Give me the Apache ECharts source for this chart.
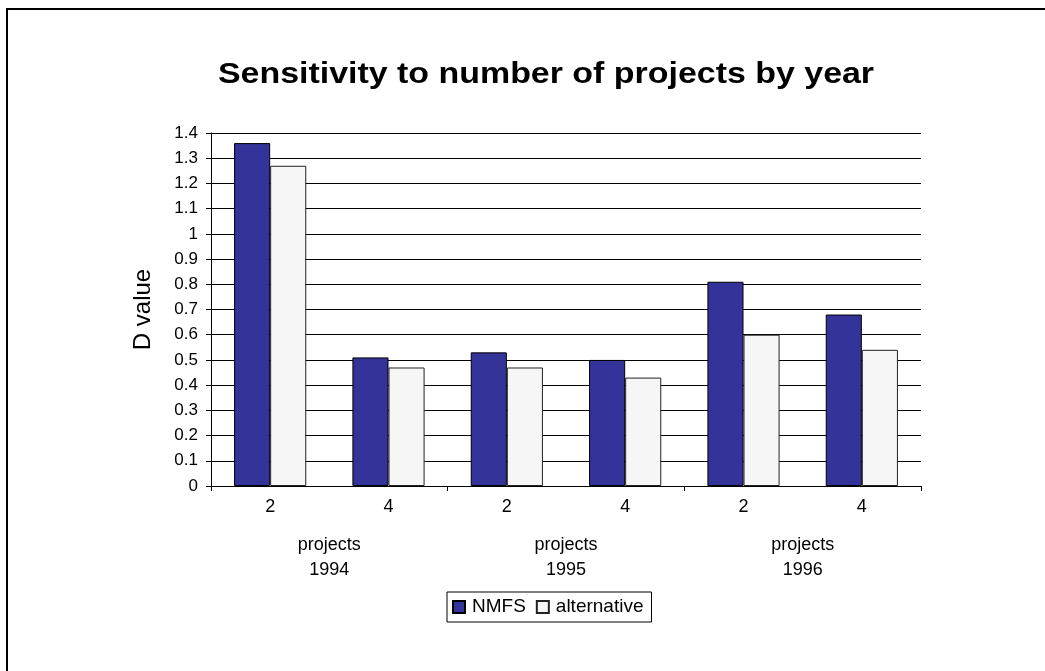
<!DOCTYPE html>
<html>
<head>
<meta charset="utf-8">
<script src="https://cdn.jsdelivr.net/npm/echarts@6/dist/echarts.min.js"></script>
<style>
  html, body { margin: 0; padding: 0; background: #ffffff; }
  #chart { width: 1045px; height: 671px; }
</style>
</head>
<body>
<div id="chart"></div>
<script>
// Number of projects within each year, and the years they are grouped under
const projectCounts = ['2', '4', '2', '4', '2', '4'];
const yearGroups = ['projects\n1994', 'projects\n1995', 'projects\n1996'];

// D values for each estimator
const nmfsValues = [1.36, 0.51, 0.53, 0.50, 0.81, 0.68];
const alternativeValues = [1.27, 0.47, 0.47, 0.43, 0.60, 0.54];

const FONT = '"Liberation Sans", Arial, sans-serif';

const chart = echarts.init(document.getElementById('chart'), null, { renderer: 'canvas' });

chart.setOption({
  backgroundColor: '#ffffff',
  animation: false,
  graphic: [{
    // outer frame of the chart area
    type: 'rect',
    shape: { x: 7, y: 9, width: 1200, height: 1000 },
    style: { fill: 'none', stroke: '#000', lineWidth: 2 },
    silent: true
  }, {
    // chart title, set a little wide
    type: 'text',
    x: 546,
    y: 75,
    scaleX: 1.17,
    style: {
      text: 'Sensitivity to number of projects by year',
      fontFamily: FONT,
      fontSize: 29,
      fontWeight: 'bold',
      fill: '#000',
      align: 'center',
      verticalAlign: 'middle'
    },
    silent: true
  }],
  legend: {
    left: 447,
    top: 592,
    padding: [5, 8, 5, 5],
    itemGap: 10,
    itemWidth: 12,
    itemHeight: 12,
    borderColor: '#000',
    borderWidth: 1,
    icon: 'rect',
    textStyle: { fontFamily: FONT, fontSize: 19, color: '#000', lineHeight: 20, padding: [0, 0, 0, 2] },
    data: ['NMFS', 'alternative']
  },
  grid: { left: 211, top: 133, width: 710, height: 353, containLabel: false },
  xAxis: [{
    type: 'category',
    data: projectCounts,
    axisLine: { lineStyle: { color: '#000', width: 1 } },
    axisTick: { show: false },
    axisLabel: { margin: 12, fontFamily: FONT, fontSize: 18, color: '#000' }
  }, {
    type: 'category',
    data: yearGroups,
    position: 'bottom',
    axisLine: { show: false },
    axisTick: { show: true, length: 5, alignWithLabel: false, lineStyle: { color: '#000' } },
    axisLabel: { margin: 47, lineHeight: 25, fontFamily: FONT, fontSize: 18, color: '#000' },
    splitLine: { show: false }
  }],
  yAxis: {
    type: 'value',
    min: 0,
    max: 1.4,
    interval: 0.1,
    name: 'D value',
    nameLocation: 'middle',
    nameGap: 56,
    nameTextStyle: { fontFamily: FONT, fontSize: 24, color: '#000' },
    axisLine: { show: true, lineStyle: { color: '#000', width: 1 } },
    axisTick: { show: true, length: 5, lineStyle: { color: '#000' } },
    axisLabel: {
      margin: 13,
      fontFamily: FONT, fontSize: 17, color: '#000',
      formatter: v => String(Math.round(v * 10) / 10)
    },
    splitLine: { show: true, lineStyle: { color: '#000', width: 1 } }
  },
  series: [{
    name: 'NMFS',
    type: 'bar',
    xAxisIndex: 0,
    data: nmfsValues,
    barGap: '0%',
    barCategoryGap: '39%',
    itemStyle: { color: '#333399', borderColor: '#000', borderWidth: 1 }
  }, {
    name: 'alternative',
    type: 'bar',
    xAxisIndex: 0,
    data: alternativeValues,
    barGap: '0%',
    barCategoryGap: '39%',
    itemStyle: { color: '#f6f6f6', borderColor: '#222', borderWidth: 1 }
  }]
});
</script>
</body>
</html>
